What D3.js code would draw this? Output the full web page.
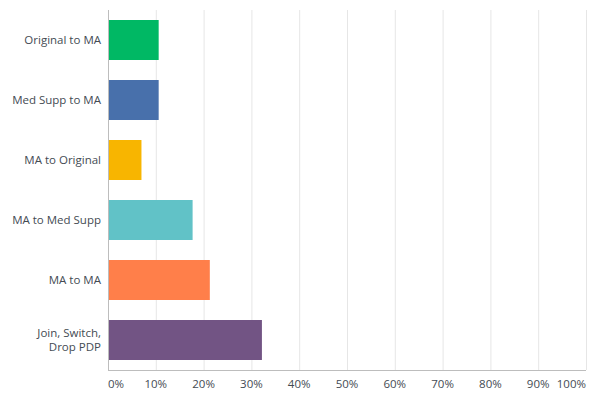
<!DOCTYPE html>
<html>
<head>
<meta charset="utf-8">
<script src="https://cdn.jsdelivr.net/npm/d3@7"></script>
<style>
  body { margin: 0; background: #fff; }
  svg { display: block; font-family: "Open Sans", sans-serif; }
</style>
</head>
<body>
<div id="chart"></div>
<script>
// chart data
const categories = ['Original to MA', 'Med Supp to MA', 'MA to Original', 'MA to Med Supp', 'MA to MA', 'Join, Switch, Drop PDP'];
const labelLines = [['Original to MA'], ['Med Supp to MA'], ['MA to Original'], ['MA to Med Supp'], ['MA to MA'], ['Join, Switch,', 'Drop PDP']];
const values = [10.6, 10.6, 7.0, 17.7, 21.3, 32.2];
const colors = ['#00b864', '#4870ab', '#f8b500', '#61c2c7', '#ff7f4a', '#725484'];
const ticks = [0, 10, 20, 30, 40, 50, 60, 70, 80, 90, 100];

const width = 600, height = 398;
const margin = { top: 10, right: 14, bottom: 28, left: 108 };

const svg = d3.select('#chart')
    .append('svg')
    .attr('width', width)
    .attr('height', height);

const x = d3.scaleLinear()
    .domain([0, 100])
    .range([margin.left, width - margin.right]);

const y = d3.scaleBand()
    .domain(categories)
    .range([margin.top, height - margin.bottom])
    .paddingInner(1 / 3)
    .paddingOuter(1 / 6);

// gridlines
svg.append('g')
    .selectAll('line')
    .data(ticks.slice(1))
    .join('line')
    .attr('x1', d => x(d) + 0.5)
    .attr('x2', d => x(d) + 0.5)
    .attr('y1', margin.top)
    .attr('y2', height - margin.bottom)
    .attr('stroke', '#e6e6e6')
    .attr('stroke-width', 1);

// bars
svg.append('g')
    .selectAll('rect')
    .data(values)
    .join('rect')
    .attr('x', x(0) + 1)
    .attr('y', (d, i) => y(categories[i]))
    .attr('width', d => x(d) - x(0) - 1)
    .attr('height', y.bandwidth())
    .attr('fill', (d, i) => colors[i]);

// axis lines
svg.append('line')
    .attr('x1', x(0) + 0.5).attr('x2', x(0) + 0.5)
    .attr('y1', margin.top).attr('y2', height - margin.bottom)
    .attr('stroke', '#bdbdbd');
svg.append('line')
    .attr('x1', x(0)).attr('x2', x(100))
    .attr('y1', height - margin.bottom + 0.5).attr('y2', height - margin.bottom + 0.5)
    .attr('stroke', '#bdbdbd');

// x tick labels
svg.append('g')
    .selectAll('text')
    .data(ticks)
    .join('text')
    .attr('x', d => x(d))
    .attr('y', height - 10)
    .attr('text-anchor', d => d === 0 ? 'start' : d === 100 ? 'end' : 'middle')
    .attr('font-size', 11.5)
    .attr('fill', '#444b53')
    .text(d => d + '%');

// category labels, one text per line
const lab = svg.append('g');
labelLines.forEach((lines, i) => {
    const cy = y(categories[i]) + y.bandwidth() / 2;
    const lh = 13.5;
    lines.forEach((ln, j) => {
        lab.append('text')
            .attr('x', margin.left - 7)
            .attr('y', cy + (j - (lines.length - 1) / 2) * lh)
            .attr('dy', '0.35em')
            .attr('text-anchor', 'end')
            .attr('font-size', 11.5)
            .attr('fill', '#444b53')
            .text(ln);
    });
});
</script>
</body>
</html>
